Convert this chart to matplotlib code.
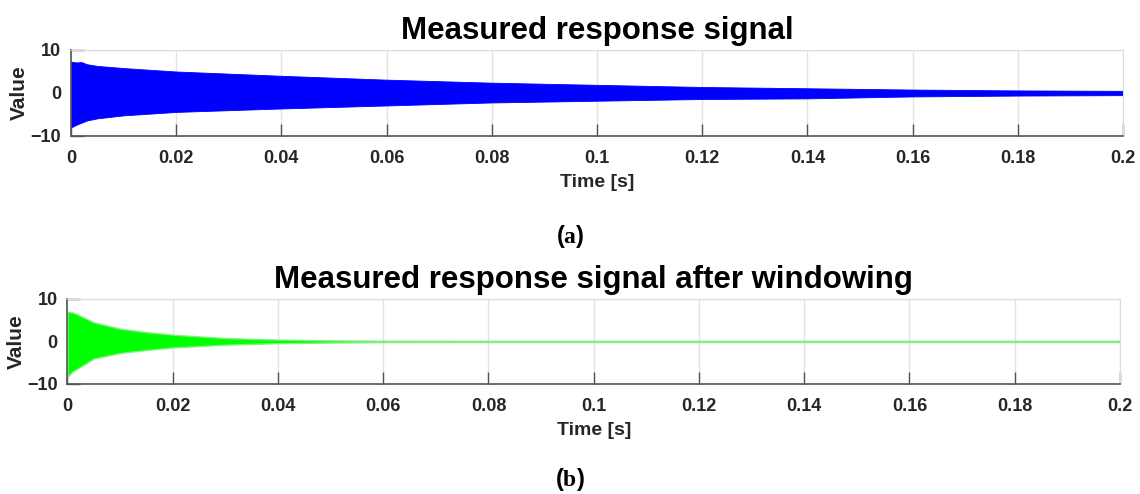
import numpy as np
import matplotlib
matplotlib.use('Agg')
import matplotlib.pyplot as plt
import matplotlib as mpl

mpl.rcParams['font.family'] = 'Liberation Sans'
mpl.rcParams['font.weight'] = 'bold'
mpl.rcParams['mathtext.fontset'] = 'custom'
mpl.rcParams['mathtext.rm'] = 'Liberation Serif'
mpl.rcParams['mathtext.bf'] = 'Liberation Serif:bold'

# envelope of the measured signal
t_raw = [0, 0.001, 0.002, 0.003, 0.005, 0.01, 0.02, 0.04, 0.06, 0.08,
         0.1, 0.12, 0.14, 0.16, 0.18, 0.2]
raw_upper = [7.3, 7.1, 7.2, 6.7, 6.3, 5.8, 5.0, 4.0, 3.1, 2.4,
             1.9, 1.4, 1.1, 0.8, 0.6, 0.5]
raw_lower = [-8.0, -7.4, -6.9, -6.4, -5.9, -5.2, -4.4, -3.6, -2.9, -2.2,
             -1.8, -1.4, -1.25, -0.8, -0.6, -0.5]

# envelope after windowing
t_win = [0, 0.001, 0.002, 0.005, 0.01, 0.015, 0.02, 0.03, 0.04, 0.05,
         0.06, 0.08, 0.2]
win_upper = [7.0, 6.8, 6.3, 4.5, 3.0, 2.2, 1.6, 0.8, 0.45, 0.25, 0.15, 0.12, 0.12]
win_lower = [-8.3, -7.0, -6.3, -4.0, -2.7, -2.0, -1.4, -0.75, -0.4, -0.25,
             -0.15, -0.12, -0.12]

xticks = [0, 0.02, 0.04, 0.06, 0.08, 0.1, 0.12, 0.14, 0.16, 0.18, 0.2]
xticklabels = ['0', '0.02', '0.04', '0.06', '0.08', '0.1', '0.12', '0.14',
               '0.16', '0.18', '0.2']
yticks = [-10, 0, 10]

dark = '#262626'
light = '#dcdcdc'

fig = plt.figure(figsize=(11.4, 4.94), dpi=100)
ax1 = fig.add_axes([0.0623, 0.7247, 0.9228, 0.1741])
ax2 = fig.add_axes([0.0592, 0.2227, 0.9232, 0.1721])


def style(ax, title):
    ax.set_xlim(0, 0.2)
    ax.set_ylim(-10, 10)
    ax.set_xticks(xticks)
    ax.set_xticklabels(xticklabels)
    ax.set_yticks(yticks)
    ax.grid(True, color='#e3e3e3', lw=1)
    ax.set_axisbelow(True)
    for s in ['top', 'right']:
        ax.spines[s].set_color(light)
    for s in ['bottom', 'left']:
        ax.spines[s].set_color('#555555')
        ax.spines[s].set_linewidth(1.2)
    ax.tick_params(direction='in', length=9, width=1, color='#555555',
                   labelsize=13, labelcolor=dark)
    ax.tick_params(axis='x', pad=10)
    ax.tick_params(axis='y', pad=7)
    ax.set_xlabel('Time [s]', fontsize=14, fontweight='bold', color=dark, labelpad=5)
    ax.set_ylabel('Value', fontsize=15, fontweight='bold', color=dark, labelpad=1)
    ax.set_title(title, fontsize=22.5, fontweight='bold', color='black', pad=8)


ax1.fill_between(t_raw, raw_lower, raw_upper, color='#0000ff', lw=0.6, edgecolor='#0000ff')
ax2.fill_between(t_win, win_lower, win_upper, color='#00ff00', lw=1.0, edgecolor='#80f080')

style(ax1, 'Measured response signal')
style(ax2, 'Measured response signal after windowing')

fig.text(0.5, 1 - 236 / 494, r'($\mathbf{a}$)', ha='center', va='center', fontsize=17)
fig.text(0.5, 1 - 479 / 494, r'($\mathbf{b}$)', ha='center', va='center', fontsize=17)

fig.savefig('out.png', dpi=100)
